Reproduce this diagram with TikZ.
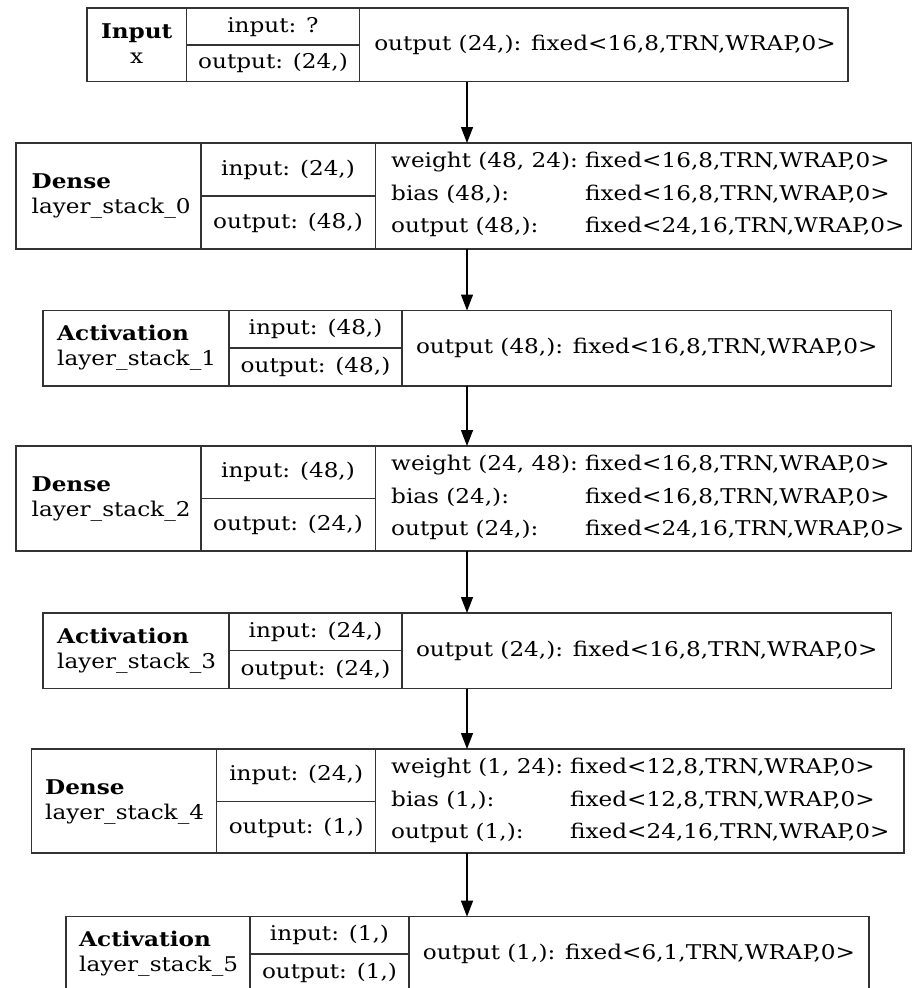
\documentclass[tikz,border=0pt]{standalone}
\usepackage{fontspec}
\setmainfont[FakeStretch=1.14]{DejaVu Serif}
\usetikzlibrary{arrows.meta}
\begin{document}
\begin{tikzpicture}[x=1pt,y=-1pt,
  box/.style={draw=black!80, line width=1.3pt, anchor=north west, inner sep=0pt, outer sep=0pt},
  cell/.style={draw=black!80, line width=1.3pt},
  txt/.style={font=\fontsize{20.3}{25}\selectfont, inner sep=0pt, text height=15pt, text depth=4pt},
  lbl/.style={txt, align=left, anchor=west, text height=, text depth=},
  clbl/.style={txt, align=center, text height=, text depth=},
  arr/.style={-{Triangle[length=16pt,width=12pt]}, line width=1.3pt}]
\useasboundingbox (0,0) rectangle (911,988);
\coordinate (ax) at (467,0);

% ---------- L0 Input
\node[box, minimum width=761pt, minimum height=73.5pt] (L0) at (87,8) {};
\draw[cell] (186.5,8) -- (186.5,81.5) (359.5,8) -- (359.5,81.5) (186.5,45) -- (359.5,45);
\node[clbl] (L0a) at (136.75,44) {\textbf{Input}\\x};
\node[txt] (L0b) at (273,26.5) {input: ?};
\node[txt] (L0c) at (273,63) {output: (24,)};
\node[txt] (L0d) at (605,45) {output (24,): fixed<16,8,TRN,WRAP,0>};

% ---------- L1 Dense
\node[box, minimum width=896pt, minimum height=106pt] (L1) at (16,143) {};
\draw[cell] (201,143) -- (201,249) (375.5,143) -- (375.5,249) (201,196) -- (375.5,196);
\node[lbl] (L1a) at (31.5,196) {\textbf{Dense}\\layer\_stack\_0};
\node[txt] (L1b) at (288,169.5) {input: (24,)};
\node[txt] (L1c) at (288,222.5) {output: (48,)};
\node[txt, anchor=west] (L1d) at (391,162) {weight (48, 24):};
\node[txt, anchor=west] (L1e) at (391,195) {bias (48,):};
\node[txt, anchor=west] (L1f) at (391,227) {output (48,):};
\node[txt, anchor=west] (L1g) at (585,162) {fixed<16,8,TRN,WRAP,0>};
\node[txt, anchor=west] (L1h) at (585,195) {fixed<16,8,TRN,WRAP,0>};
\node[txt, anchor=west] (L1i) at (585,227) {fixed<24,16,TRN,WRAP,0>};

% ---------- L2 Activation
\node[box, minimum width=848.5pt, minimum height=75.5pt] (L2) at (43,310.5) {};
\draw[cell] (229,310.5) -- (229,386) (402,310.5) -- (402,386) (229,348) -- (402,348);
\node[lbl] (L2a) at (57,348) {\textbf{Activation}\\layer\_stack\_1};
\node[txt] (L2b) at (315.5,329) {input: (48,)};
\node[txt] (L2c) at (315.5,367) {output: (48,)};
\node[txt] (L2d) at (646.75,348) {output (48,): fixed<16,8,TRN,WRAP,0>};

% ---------- L3 Dense
\node[box, minimum width=896pt, minimum height=105pt] (L3) at (16,446) {};
\draw[cell] (201,446) -- (201,551) (375.5,446) -- (375.5,551) (201,498.5) -- (375.5,498.5);
\node[lbl] (L3a) at (31.5,498.5) {\textbf{Dense}\\layer\_stack\_2};
\node[txt] (L3b) at (288,472) {input: (48,)};
\node[txt] (L3c) at (288,525) {output: (24,)};
\node[txt, anchor=west] (L3d) at (391,465) {weight (24, 48):};
\node[txt, anchor=west] (L3e) at (391,498) {bias (24,):};
\node[txt, anchor=west] (L3f) at (391,530) {output (24,):};
\node[txt, anchor=west] (L3g) at (585,465) {fixed<16,8,TRN,WRAP,0>};
\node[txt, anchor=west] (L3h) at (585,498) {fixed<16,8,TRN,WRAP,0>};
\node[txt, anchor=west] (L3i) at (585,530) {fixed<24,16,TRN,WRAP,0>};

% ---------- L4 Activation
\node[box, minimum width=848.5pt, minimum height=75.5pt] (L4) at (43,613) {};
\draw[cell] (229,613) -- (229,688.5) (402,613) -- (402,688.5) (229,650.5) -- (402,650.5);
\node[lbl] (L4a) at (57,650.5) {\textbf{Activation}\\layer\_stack\_3};
\node[txt] (L4b) at (315.5,631.5) {input: (24,)};
\node[txt] (L4c) at (315.5,669.5) {output: (24,)};
\node[txt] (L4d) at (646.75,650.5) {output (24,): fixed<16,8,TRN,WRAP,0>};

% ---------- L5 Dense
\node[box, minimum width=872.3pt, minimum height=104pt] (L5) at (31.7,749) {};
\draw[cell] (216.7,749) -- (216.7,853) (375.7,749) -- (375.7,853) (216.7,801.5) -- (375.7,801.5);
\node[lbl] (L5a) at (45,801.5) {\textbf{Dense}\\layer\_stack\_4};
\node[txt] (L5b) at (296.2,775) {input: (24,)};
\node[txt] (L5c) at (296.2,827.5) {output: (1,)};
\node[txt, anchor=west] (L5d) at (391,767.5) {weight (1, 24):};
\node[txt, anchor=west] (L5e) at (391,801) {bias (1,):};
\node[txt, anchor=west] (L5f) at (391,833) {output (1,):};
\node[txt, anchor=west] (L5g) at (570,767.5) {fixed<12,8,TRN,WRAP,0>};
\node[txt, anchor=west] (L5h) at (570,801) {fixed<12,8,TRN,WRAP,0>};
\node[txt, anchor=west] (L5i) at (570,833) {fixed<24,16,TRN,WRAP,0>};

% ---------- L6 Activation
\node[box, minimum width=803pt, minimum height=75.5pt] (L6) at (66,916.7) {};
\draw[cell] (250,916.7) -- (250,992.2) (409,916.7) -- (409,992.2) (250,954) -- (409,954);
\node[lbl] (L6a) at (79,954) {\textbf{Activation}\\layer\_stack\_5};
\node[txt] (L6b) at (329.5,935) {input: (1,)};
\node[txt] (L6c) at (329.5,973) {output: (1,)};
\node[txt] (L6d) at (639,954) {output (1,): fixed<6,1,TRN,WRAP,0>};

% ---------- arrows
\draw[arr] (L0.south -| ax) -- (L1.north -| ax);
\draw[arr] (L1.south -| ax) -- (L2.north -| ax);
\draw[arr] (L2.south -| ax) -- (L3.north -| ax);
\draw[arr] (L3.south -| ax) -- (L4.north -| ax);
\draw[arr] (L4.south -| ax) -- (L5.north -| ax);
\draw[arr] (L5.south -| ax) -- (L6.north -| ax);
\end{tikzpicture}
\end{document}
